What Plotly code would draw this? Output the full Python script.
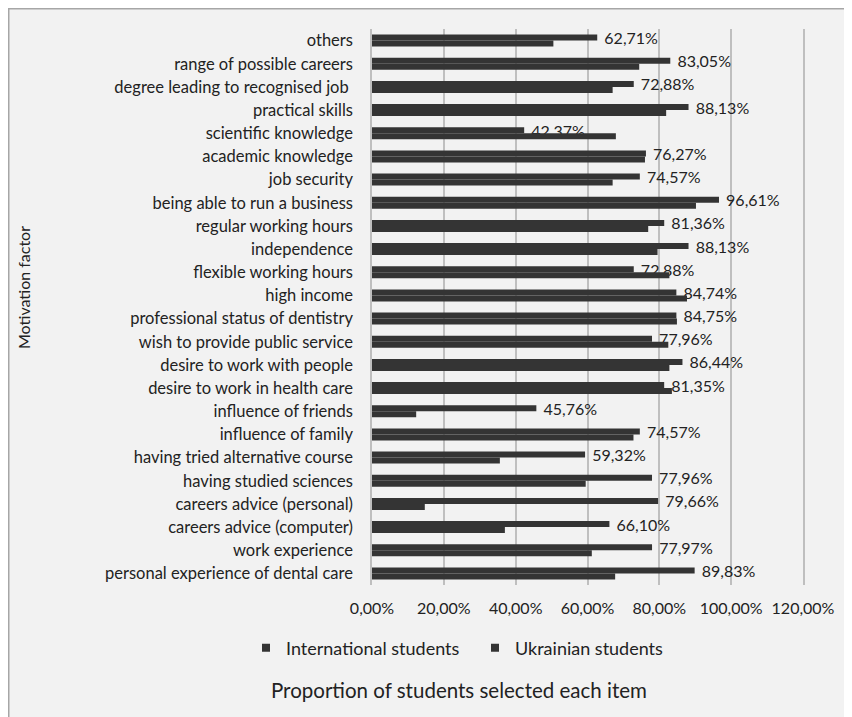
import plotly.graph_objects as go

categories = ["others", "range of possible careers", "degree leading to recognised job ",
              "practical skills", "scientific knowledge", "academic knowledge", "job security",
              "being able to run a business", "regular working hours", "independence",
              "flexible working hours", "high income", "professional status of dentistry",
              "wish to provide public service", "desire to work with people",
              "desire to work in health care", "influence of friends", "influence of family",
              "having tried alternative course", "having studied sciences",
              "careers advice (personal)", "careers advice (computer)", "work experience",
              "personal experience of dental care"]

ukrainian = [62.71, 83.05, 72.88, 88.13, 42.37, 76.27, 74.57, 96.61, 81.36, 88.13, 72.88, 84.74,
             84.75, 77.96, 86.44, 81.35, 45.76, 74.57, 59.32, 77.96, 79.66, 66.10, 77.97, 89.83]

international = [50.5, 74.4, 67.0, 81.9, 67.9, 76.0, 67.0, 90.2, 76.9, 79.5, 82.8, 87.7,
                 84.9, 82.5, 82.8, 83.5, 12.3, 72.8, 35.6, 59.5, 14.7, 37.0, 61.2, 67.7]

series_names = ["International students", "Ukrainian students"]
x_ticks = [0, 20, 40, 60, 80, 100, 120]
x_tick_labels = ["0,00%", "20,00%", "40,00%", "60,00%", "80,00%", "100,00%", "120,00%"]

# the page body has an 8px margin, so the figure is laid out 8px up/left
OFF = 8
W, H = 852, 717
PLOT_LEFT, PLOT_TOP, PLOT_RIGHT, PLOT_BOTTOM = 372, 29, 803, 585  # screen px
L = PLOT_LEFT - OFF
T = PLOT_TOP - OFF
PW = PLOT_RIGHT - PLOT_LEFT
PH = PLOT_BOTTOM - PLOT_TOP
R = W - L - PW
B = H - T - PH
FONT = "Lato, Carlito, Calibri, sans-serif"
TXT = "#222222"
BAR = "#343434"


def px_x(px):
    return (px - PLOT_LEFT) / PW


def px_y(py):
    return (PLOT_BOTTOM - py) / PH


fig = go.Figure()
fig.add_trace(go.Bar(
    y=categories, x=ukrainian, orientation="h", name=series_names[1],
    marker=dict(color=BAR, line=dict(width=0)), showlegend=False,
    texttemplate=" %{x:.2f}%", textposition="outside", constraintext="none",
    cliponaxis=False, textfont=dict(family=FONT, size=16, color=TXT),
))
fig.add_trace(go.Bar(
    y=categories, x=international, orientation="h", name=series_names[0],
    marker=dict(color=BAR, line=dict(width=0)), showlegend=False,
))
for name in series_names:
    fig.add_trace(go.Scatter(
        x=[None], y=[None], mode="markers", name=name,
        marker=dict(symbol="square", size=8, color=BAR),
    ))

fig.update_layout(
    width=W, height=H,
    margin=dict(l=L, r=R, t=T, b=B, pad=0, autoexpand=False),
    paper_bgcolor="white", plot_bgcolor="#f2f2f2",
    barmode="group", bargap=0.48, bargroupgap=0,
    separators=",.",
    font=dict(family=FONT, size=16, color=TXT),
    showlegend=True,
    legend=dict(orientation="h", x=px_x(246), y=px_y(648), xanchor="left", yanchor="middle",
                font=dict(family=FONT, size=18, color=TXT), bgcolor="rgba(0,0,0,0)",
                traceorder="normal", entrywidth=184, entrywidthmode="pixels"),
    xaxis=dict(range=[0, 120], tickvals=x_ticks, ticktext=x_tick_labels,
               showgrid=True, gridcolor="#bfbfbf", gridwidth=1.5, zeroline=False,
               showline=False, ticks="", ticklabelstandoff=12,
               tickfont=dict(family=FONT, size=16, color=TXT), fixedrange=True),
    yaxis=dict(type="category", autorange="reversed", showgrid=False, zeroline=False,
               showline=True, mirror=True, linecolor="#bfbfbf", linewidth=1.5, ticks="",
               ticklabelstandoff=14, tickfont=dict(family=FONT, size=16.5, color=TXT),
               fixedrange=True),
    shapes=[dict(type="rect", xref="paper", yref="paper", layer="below",
                 x0=px_x(8.5), x1=px_x(880), y0=px_y(8.5), y1=px_y(740),
                 fillcolor="#f2f2f2", line=dict(color="#a6a6a6", width=2))],
    annotations=[
        dict(text="Motivation factor", textangle=-90, xref="paper", yref="paper",
             x=px_x(23), y=px_y(288), showarrow=False, xanchor="center", yanchor="middle",
             font=dict(family=FONT, size=16, color=TXT)),
        dict(text="Proportion of students selected each item", xref="paper", yref="paper",
             x=px_x(459), y=px_y(690), showarrow=False, xanchor="center", yanchor="middle",
             font=dict(family=FONT, size=20.5, color=TXT)),
    ],
)

fig.write_html("out.html")
